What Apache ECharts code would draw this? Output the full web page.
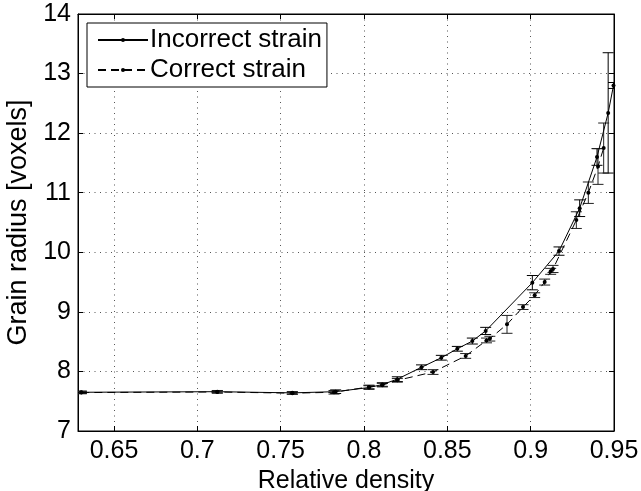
<!DOCTYPE html>
<html>
<head>
<meta charset="utf-8">
<script src="https://cdn.jsdelivr.net/npm/echarts@6/dist/echarts.min.js"></script>
<style>html,body{margin:0;padding:0;background:#fff}#c{width:641px;height:491px}</style>
</head>
<body>
<div id="c"></div>
<script>
// ---- data ----
const xTicks = [0.65, 0.7, 0.75, 0.8, 0.85, 0.9, 0.95];
const seriesNames = ['Incorrect strain', 'Correct strain'];

const incorrectX   = [0.6304, 0.712, 0.757, 0.783, 0.803, 0.811, 0.820, 0.8345, 0.8464, 0.856, 0.865, 0.873, 0.901, 0.917, 0.9294, 0.9398, 0.9465, 0.9497];
const incorrectY   = [7.65,   7.66,  7.64,  7.66,  7.73,  7.78,  7.87,  8.07,   8.23,   8.38,  8.51,  8.68,  9.49,  10.02, 10.74,  11.60,  12.34,  12.80];
const incorrectErr = [0.02,   0.02,  0.02,  0.03,  0.03,  0.03,  0.04,  0.04,   0.04,   0.04,  0.05,  0.06,  0.12,  0.07,  0.14,   0.14,   1.01,   0.05];

const correctX   = [0.6304, 0.712, 0.757, 0.782, 0.803, 0.811, 0.820, 0.8414, 0.861, 0.8735, 0.8755, 0.8858, 0.8954, 0.9024, 0.9084, 0.9120, 0.9134, 0.9274, 0.9346, 0.9404, 0.9438];
const correctY   = [7.645,  7.655, 7.635, 7.65,  7.74,  7.77,  7.85,  7.99,   8.26,  8.52,   8.55,   8.79,   9.08,   9.28,   9.50,   9.68,   9.72,   10.54,  11.00,  11.44,  11.75];
const correctErr = [0.02,   0.02,  0.02,  0.03,  0.03,  0.03,  0.03,  0.04,   0.04,  0.04,   0.04,   0.15,   0.04,   0.04,   0.05,   0.05,   0.06,   0.14,   0.18,   0.30,   0.42];

const FONT = 'Liberation Sans, Arial, Helvetica, sans-serif';

function zip3(a, b, c) { return a.map((v, i) => [v, b[i], c[i]]); }
function zip2(a, b) { return a.map((v, i) => [v, b[i]]); }

function errRender(color) {
  return function (params, api) {
    const x = api.value(0), y = api.value(1), e = api.value(2);
    const top = api.coord([x, y + e]);
    const bot = api.coord([x, y - e]);
    const w = 5.5;
    const st = { stroke: color, lineWidth: 1 };
    return {
      type: 'group',
      children: [
        { type: 'line', shape: { x1: top[0], y1: top[1], x2: bot[0], y2: bot[1] }, style: st },
        { type: 'line', shape: { x1: top[0] - w, y1: top[1], x2: top[0] + w, y2: top[1] }, style: st },
        { type: 'line', shape: { x1: bot[0] - w, y1: bot[1], x2: bot[0] + w, y2: bot[1] }, style: st }
      ]
    };
  };
}

const chart = echarts.init(document.getElementById('c'), null, { renderer: 'canvas' });
const gridStyle = { color: '#555', width: 1, type: [1, 4.5] };
chart.setOption({
  animation: false,
  backgroundColor: '#fff',
  textStyle: { fontFamily: FONT },
  grid: { left: 78, right: 27, top: 14, bottom: 60, show: true, borderColor: '#000', borderWidth: 1,
          containLabel: false, outerBoundsMode: 'none' },
  legend: {
    data: seriesNames,
    orient: 'vertical',
    left: 87, top: 23,
    backgroundColor: '#fff',
    borderColor: '#000', borderWidth: 1, borderRadius: 0,
    padding: [4, 5, 4, 10],
    itemGap: 4,
    itemWidth: 50, itemHeight: 5,
    textStyle: { fontFamily: FONT, fontSize: 26, color: '#000', padding: [0, 0, 0, -3] }
  },
  xAxis: [{
    type: 'value', min: 0.6284, max: 0.95,
    name: 'Relative density', nameLocation: 'middle', nameGap: 33,
    nameTextStyle: { fontFamily: FONT, fontSize: 25, color: '#000' },
    axisLine: { show: true, lineStyle: { color: '#000' } },
    axisTick: { show: true, inside: true, length: 5, lineStyle: { color: '#000' }, customValues: xTicks },
    axisLabel: { customValues: xTicks, fontFamily: FONT, fontSize: 25, color: '#000', margin: 8,
      formatter: v => String(+v.toFixed(2)) },
    splitLine: { show: true, lineStyle: gridStyle }
  }, {
    type: 'value', min: 0.6284, max: 0.95, position: 'top',
    axisLine: { show: true, lineStyle: { color: '#000' } },
    axisTick: { show: true, inside: true, length: 5, lineStyle: { color: '#000' }, customValues: xTicks },
    axisLabel: { show: false },
    splitLine: { show: false }
  }],
  yAxis: [{
    type: 'value', min: 7, max: 14, interval: 1,
    name: 'Grain radius [voxels]', nameLocation: 'middle', nameGap: 42, nameRotate: 90,
    nameTextStyle: { fontFamily: FONT, fontSize: 27, color: '#000' },
    axisLine: { show: true, lineStyle: { color: '#000' } },
    axisTick: { show: true, inside: true, length: 5, lineStyle: { color: '#000' } },
    axisLabel: { fontFamily: FONT, fontSize: 25, color: '#000', margin: 7 },
    splitLine: { show: true, lineStyle: gridStyle }
  }, {
    type: 'value', min: 7, max: 14, interval: 1, position: 'right',
    axisLine: { show: true, lineStyle: { color: '#000' } },
    axisTick: { show: true, inside: true, length: 5, lineStyle: { color: '#000' } },
    axisLabel: { show: false },
    splitLine: { show: false }
  }],
  series: [
    {
      name: seriesNames[0], type: 'line', data: zip2(incorrectX, incorrectY),
      symbol: 'circle', symbolSize: 4, showSymbol: true, clip: true,
      lineStyle: { color: '#000', width: 1, type: 'solid' },
      itemStyle: { color: '#000' }, z: 3
    },
    {
      name: seriesNames[1], type: 'line', data: zip2(correctX, correctY),
      symbol: 'circle', symbolSize: 4, showSymbol: true, clip: true,
      lineStyle: { color: '#000', width: 1, type: [8, 5] },
      itemStyle: { color: '#000' }, z: 3
    },
    {
      type: 'custom', name: 'errIncorrect', data: zip3(incorrectX, incorrectY, incorrectErr),
      renderItem: errRender('#000'), clip: true, z: 2, silent: true,
      encode: { x: 0, y: 1 }
    },
    {
      type: 'custom', name: 'errCorrect', data: zip3(correctX, correctY, correctErr),
      renderItem: errRender('#222'), clip: true, z: 2, silent: true,
      encode: { x: 0, y: 1 }
    }
  ]
});
</script>
</body>
</html>
